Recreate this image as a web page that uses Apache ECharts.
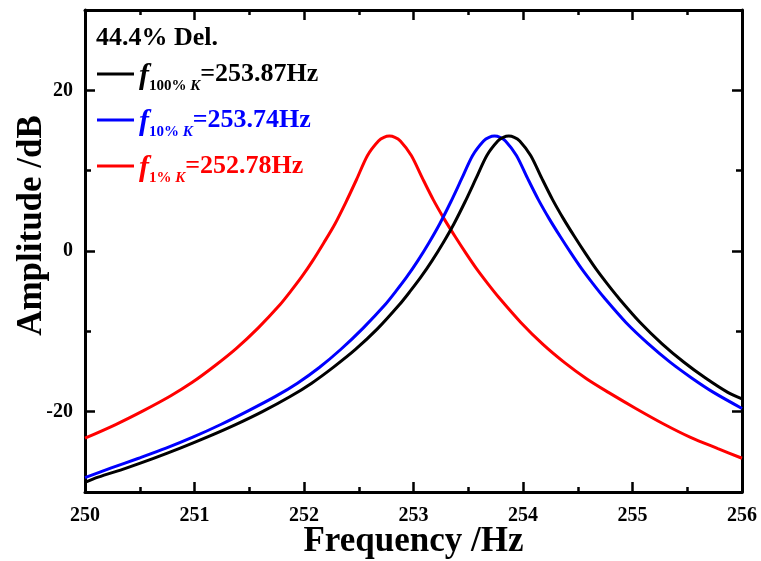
<!DOCTYPE html>
<html><head><meta charset="utf-8">
<script src="https://cdn.jsdelivr.net/npm/echarts@6/dist/echarts.min.js"></script>
<style>html,body{margin:0;padding:0;background:#fff}#c{width:761px;height:561px}</style>
</head><body><div id="c"></div>
<script>
// ---- data ----
const freqBlack = [250,250.12,250.37,250.62,250.87,251.12,251.37,251.62,251.87,252.07,252.27,252.47,252.67,252.87,252.97,253.07,253.17,253.27,253.37,253.47,253.57,253.67,253.77,253.82,253.87,253.92,253.97,254.07,254.17,254.27,254.37,254.47,254.57,254.67,254.77,254.87,255.07,255.27,255.47,255.67,255.87,256];
const ampBlack  = [-28.8,-28.15,-27.05,-25.85,-24.55,-23.15,-21.65,-20.0,-18.15,-16.45,-14.45,-12.25,-9.7,-6.7,-5.0,-3.2,-1.2,1.0,3.4,6.1,9.0,11.9,13.7,14.15,14.3,14.15,13.7,11.9,9.1,6.4,4.0,1.8,-0.3,-2.3,-4.1,-5.8,-8.9,-11.55,-13.85,-15.85,-17.6,-18.4];
const freqBlue  = [250,250.24,250.49,250.74,250.99,251.24,251.49,251.74,251.94,252.14,252.34,252.54,252.74,252.84,252.94,253.04,253.14,253.24,253.34,253.44,253.54,253.64,253.69,253.74,253.79,253.84,253.94,254.04,254.14,254.24,254.34,254.44,254.54,254.64,254.74,254.94,255.14,255.34,255.54,255.74,256];
const ampBlue   = [-28.2,-27.0,-25.8,-24.55,-23.15,-21.6,-19.9,-18.1,-16.45,-14.5,-12.2,-9.6,-6.7,-5.0,-3.2,-1.2,1.0,3.4,6.1,9.0,11.9,13.7,14.15,14.3,14.15,13.7,11.9,9.1,6.4,4.0,1.8,-0.3,-2.3,-4.1,-5.8,-8.9,-11.5,-13.8,-15.8,-17.6,-19.6];
const freqRed   = [250,250.28,250.53,250.78,250.98,251.18,251.38,251.58,251.78,251.88,251.98,252.08,252.18,252.28,252.38,252.48,252.58,252.68,252.73,252.78,252.83,252.88,252.98,253.08,253.18,253.28,253.38,253.48,253.58,253.68,253.78,253.98,254.18,254.38,254.58,254.78,255.03,255.28,255.53,255.78,256];
const ampRed    = [-23.3,-21.6,-19.9,-18.05,-16.35,-14.35,-12.15,-9.6,-6.7,-5.0,-3.2,-1.2,1.0,3.3,6.0,8.9,11.9,13.7,14.15,14.3,14.15,13.7,11.9,9.1,6.4,4.0,1.8,-0.3,-2.3,-4.1,-5.8,-8.9,-11.6,-13.9,-15.9,-17.6,-19.6,-21.5,-23.2,-24.6,-25.8];

const subLabels    = ['100%', '10%', '1%'];
const peakFreqs    = ['253.87', '253.74', '252.78'];
const seriesColors = ['#000000', '#0000ff', '#ff0000'];
const noteText     = '44.4% Del.';
const yMajorTicks  = [-20, 0, 20];
const yMinorTicks  = [-10, 10];
const xTitle = 'Frequency /Hz';
const yTitle = 'Amplitude /dB';

// ---- build ----
const FF = 'Liberation Serif, Times New Roman, serif';
const seriesNames = subLabels.map(s => 'f' + s + 'K');
const freqs = [freqBlack, freqBlue, freqRed];
const amps = [ampBlack, ampBlue, ampRed];

const chart = echarts.init(document.getElementById('c'), null, {renderer: 'canvas'});

const axisLineStyle = {color: '#000', width: 3};
const tickStyle = {color: '#000', width: 2.5};

function yAx(pos, custom, len, withLabel, withLine, extra) {
  return Object.assign({
    type: 'value', position: pos, min: -30, max: 30,
    axisLine: {show: withLine, onZero: false, lineStyle: axisLineStyle},
    axisTick: {show: true, inside: true, length: len, lineStyle: tickStyle, customValues: custom},
    axisLabel: withLabel ? {show: true, customValues: custom, margin: 12, color: '#000',
      fontFamily: FF, fontWeight: 'bold', fontSize: 20} : {show: false},
    splitLine: {show: false}
  }, extra || {});
}
function xAx(pos, withLabel, extra) {
  return Object.assign({
    type: 'value', position: pos, min: 250, max: 256, interval: 1,
    axisLine: {show: true, onZero: false, lineStyle: axisLineStyle},
    axisTick: {show: true, inside: true, length: 10, lineStyle: tickStyle},
    minorTick: {show: true, splitNumber: 2, length: 5, lineStyle: tickStyle},
    axisLabel: withLabel ? {show: true, margin: 14, color: '#000',
      fontFamily: FF, fontWeight: 'bold', fontSize: 20} : {show: false},
    splitLine: {show: false}, minorSplitLine: {show: false}
  }, extra || {});
}

const option = {
  animation: false,
  backgroundColor: '#fff',
  title: {
    text: noteText, left: 96, top: 25, padding: 0,
    textStyle: {fontFamily: FF, fontWeight: 'bold', fontSize: 26, color: '#000'}
  },
  legend: {
    orient: 'vertical', left: 97, top: 61, padding: 0, itemGap: 13,
    itemWidth: 37, itemHeight: 3, icon: 'rect', selectedMode: false,
    data: seriesNames.map((n, i) => ({name: n, textStyle: {color: seriesColors[i]}})),
    formatter: function (name) {
      const i = seriesNames.indexOf(name);
      return '{f|f}{s|' + subLabels[i] + ' }{k|K}{v|=' + peakFreqs[i] + 'Hz}';
    },
    textStyle: {
      fontFamily: FF, fontWeight: 'bold', fontSize: 26,
      rich: {
        f: {fontFamily: FF, fontStyle: 'italic', fontWeight: 'bold', fontSize: 30, padding: [4, 0, 0, 0]},
        s: {fontFamily: FF, fontWeight: 'bold', fontSize: 15, padding: [25, 0, 0, 0]},
        k: {fontFamily: FF, fontStyle: 'italic', fontWeight: 'bold', fontSize: 15, padding: [25, 0, 0, 0]},
        v: {fontFamily: FF, fontWeight: 'bold', fontSize: 26}
      }
    }
  },
  grid: {left: 85, right: 19, top: 10, bottom: 69, containLabel: false, outerBoundsMode: 'none'},
  xAxis: [
    xAx('bottom', true, {
      name: xTitle, nameLocation: 'middle', nameGap: 32, nameMoveOverlap: false,
      nameTextStyle: {fontFamily: FF, fontWeight: 'bold', fontSize: 35, color: '#000'}
    }),
    xAx('top', false)
  ],
  yAxis: [
    yAx('left', yMajorTicks, 10, true, true, {
      name: yTitle, nameLocation: 'middle', nameGap: 36, nameRotate: 90, nameMoveOverlap: false,
      nameTextStyle: {fontFamily: FF, fontWeight: 'bold', fontSize: 35, color: '#000', padding: [0, 0, 0, 51]}
    }),
    yAx('left', yMinorTicks, 6, false, false),
    yAx('right', yMajorTicks, 10, false, true),
    yAx('right', yMinorTicks, 6, false, false)
  ],
  series: seriesNames.map((n, i) => ({
    name: n, type: 'line', xAxisIndex: 0, yAxisIndex: 0,
    data: freqs[i].map((f, j) => [f, amps[i][j]]),
    smooth: 0.3, showSymbol: false, symbol: 'none',
    lineStyle: {color: seriesColors[i], width: 3},
    itemStyle: {color: seriesColors[i]},
    z: 3 - i
  }))
};
chart.setOption(option);
</script></body></html>
